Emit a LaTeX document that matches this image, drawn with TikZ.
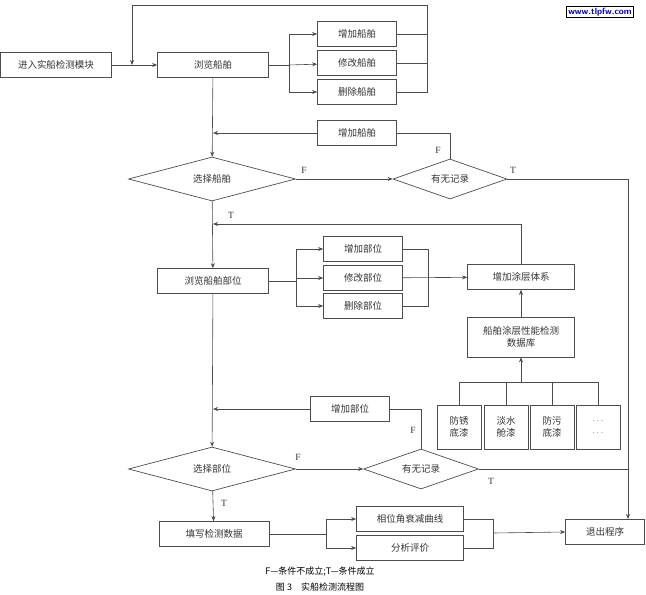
\documentclass[tikz,border=0pt]{standalone}
\usepackage{fontspec}
\setmainfont{Liberation Serif}
\newfontfamily\cjk{Noto Sans CJK SC}
\usetikzlibrary{shapes.geometric,arrows.meta}
\begin{document}
\begin{tikzpicture}[x=1pt,y=-1pt,
  every node/.style={font=\cjk\fontsize{9.5}{12}\selectfont, text=black!80},
  box/.style={draw=black!70, line width=0.7pt, minimum width=#1, minimum height=25pt, inner sep=1pt, align=center},
  box/.default=79pt,
  dia/.style={draw=black!70, line width=0.7pt, diamond, aspect=3.4, inner sep=0pt},
  ln/.style={draw=black!70, line width=0.6pt},
  ar/.style={ln, -{Stealth[length=5pt,width=4pt]}},
  lab/.style={font=\fontsize{9.5}{11}\selectfont}]
\useasboundingbox (0,0) rectangle (646,595);
\node[draw=black, line width=0.8pt, font=\sffamily\bfseries\fontsize{9}{10}\selectfont, text=blue!70!black, inner sep=1.5pt] (wm) at (600,12) {www.tlpfw.com};

\node[box=111pt] (enter) at (56,65) {进入实船检测模块};
\node[box=111pt] (bs) at (213,65) {浏览船舶};
\node[box] (a1) at (357,34) {增加船舶};
\node[box] (a2) at (357,63) {修改船舶};
\node[box] (a3) at (357,92) {删除船舶};
\node[box] (a4) at (357,133) {增加船舶};
\node[dia, minimum width=167pt, minimum height=44pt] (d1) at (212,179) {选择船舶};
\node[dia, minimum width=114pt, minimum height=40pt] (d2) at (450,179) {有无记录};
\node[box=111pt] (bp) at (213,281) {浏览船舶部位};
\node[box] (b1) at (363,249) {增加部位};
\node[box] (b2) at (363,278) {修改部位};
\node[box] (b3) at (363,306) {删除部位};
\node[box=107pt] (coat) at (521,277) {增加涂层体系};
\node[box=107pt, minimum height=40pt, inner sep=0pt] (db) at (521,337) {船舶涂层性能检测\\数据库};
\node[box=44pt, minimum height=44pt] (p1) at (459,427) {防锈\\底漆};
\node[box=44pt, minimum height=44pt] (p2) at (506,427) {淡水\\舱漆};
\node[box=44pt, minimum height=44pt] (p3) at (552,427) {防污\\底漆};
\node[box=44pt, minimum height=44pt] (p4) at (598,427) {$\cdots$\\$\cdots$};
\node[box] (b4) at (350,409) {增加部位};
\node[dia, minimum width=167pt, minimum height=44pt] (d3) at (212,469) {选择部位};
\node[dia, minimum width=115pt, minimum height=40pt] (d4) at (421,469) {有无记录};
\node[box=110pt] (fill) at (214,534) {填写检测数据};
\node[box=107pt] (c1) at (410,519) {相位角衰减曲线};
\node[box=107pt] (c2) at (410,548) {分析评价};
\node[box] (exit) at (605,532) {退出程序};

% top part
\draw[ar] (enter) -- (bs);
\coordinate (f1) at (289,65);
\draw[ln] (bs) -- (f1);
\draw[ar] (f1) |- (a1);
\draw[ar] (f1) -- (a2);
\draw[ar] (f1) |- (a3);
\draw[ln] (a1.east) -- (427,34) (a2.east) -- (427,63);
\draw[ar] (a3.east) -- (427,92) -- (427,5) -- (132,5) -- (132,65);
\draw[ar] (bs) -- (d1);
\draw[ar] (a4.west) -- (213,133);
\draw[ln] (a4.east) -- (450,133) -- (d2.north);
\draw[ar] (d1.east) -- (d2.west);
\node[lab] (lF1) at (304,170) {F};
\node[lab] (lF2) at (438,150) {F};
\node[lab] (lT1) at (513,170) {T};
\draw[ar] (d2.east) -- (628,179) -- (628,519);
% middle
\draw[ar] (d1) -- (bp);
\node[lab] (lT2) at (231,215) {T};
\draw[ar] (coat.north) -- (521,224) -- (213,224);
\coordinate (f2) at (296,281);
\draw[ln] (bp) -- (f2);
\draw[ar] (f2) |- (b1);
\draw[ar] (f2) -- (296,278) -- (b2);
\draw[ar] (f2) |- (b3);
\draw[ln] (b1.east) -- (428,249) -- (428,306) -- (b3.east);
\draw[ar] (b2) -- (coat);
\draw[ar] (db.north) -- (coat.south);
\draw[ar] (521,382) -- (db.south);
\draw[ln] (p1.north) -- (459,382) -- (598,382) -- (p4.north);
\draw[ln] (p2.north) -- (506,382) (p3.north) -- (552,382);
% lower
\draw[ar] (bp) -- (d3);
\draw[ar] (b4.west) -- (213,409);
\draw[ln] (b4.east) -- (421,409) -- (d4.north);
\draw[ar] (d3.east) -- (d4.west);
\node[lab] (lF3) at (298,457) {F};
\node[lab] (lF4) at (413,430) {F};
\node[lab] (lT3) at (491,481) {T};
\draw[ln] (d4.east) -- (628,469);
\draw[ar] (d3) -- (fill);
\node[lab] (lT4) at (224,503) {T};
\coordinate (f3) at (326,534);
\draw[ln] (fill) -- (f3);
\draw[ar] (f3) |- (c1);
\draw[ar] (f3) |- (c2);
\draw[ln] (c1.east) -- (493,519) -- (493,548) -- (c2.east);
\draw[ar] (493,533) -- (exit.west);
\node[font=\cjk\fontsize{9}{11}\selectfont, text=black] (cap1) at (320,572) {F—条件不成立;T—条件成立};
\node[font=\cjk\fontsize{9}{11}\selectfont, text=black] (cap2) at (320,587) {图 3\quad 实船检测流程图};
\end{tikzpicture}
\end{document}
